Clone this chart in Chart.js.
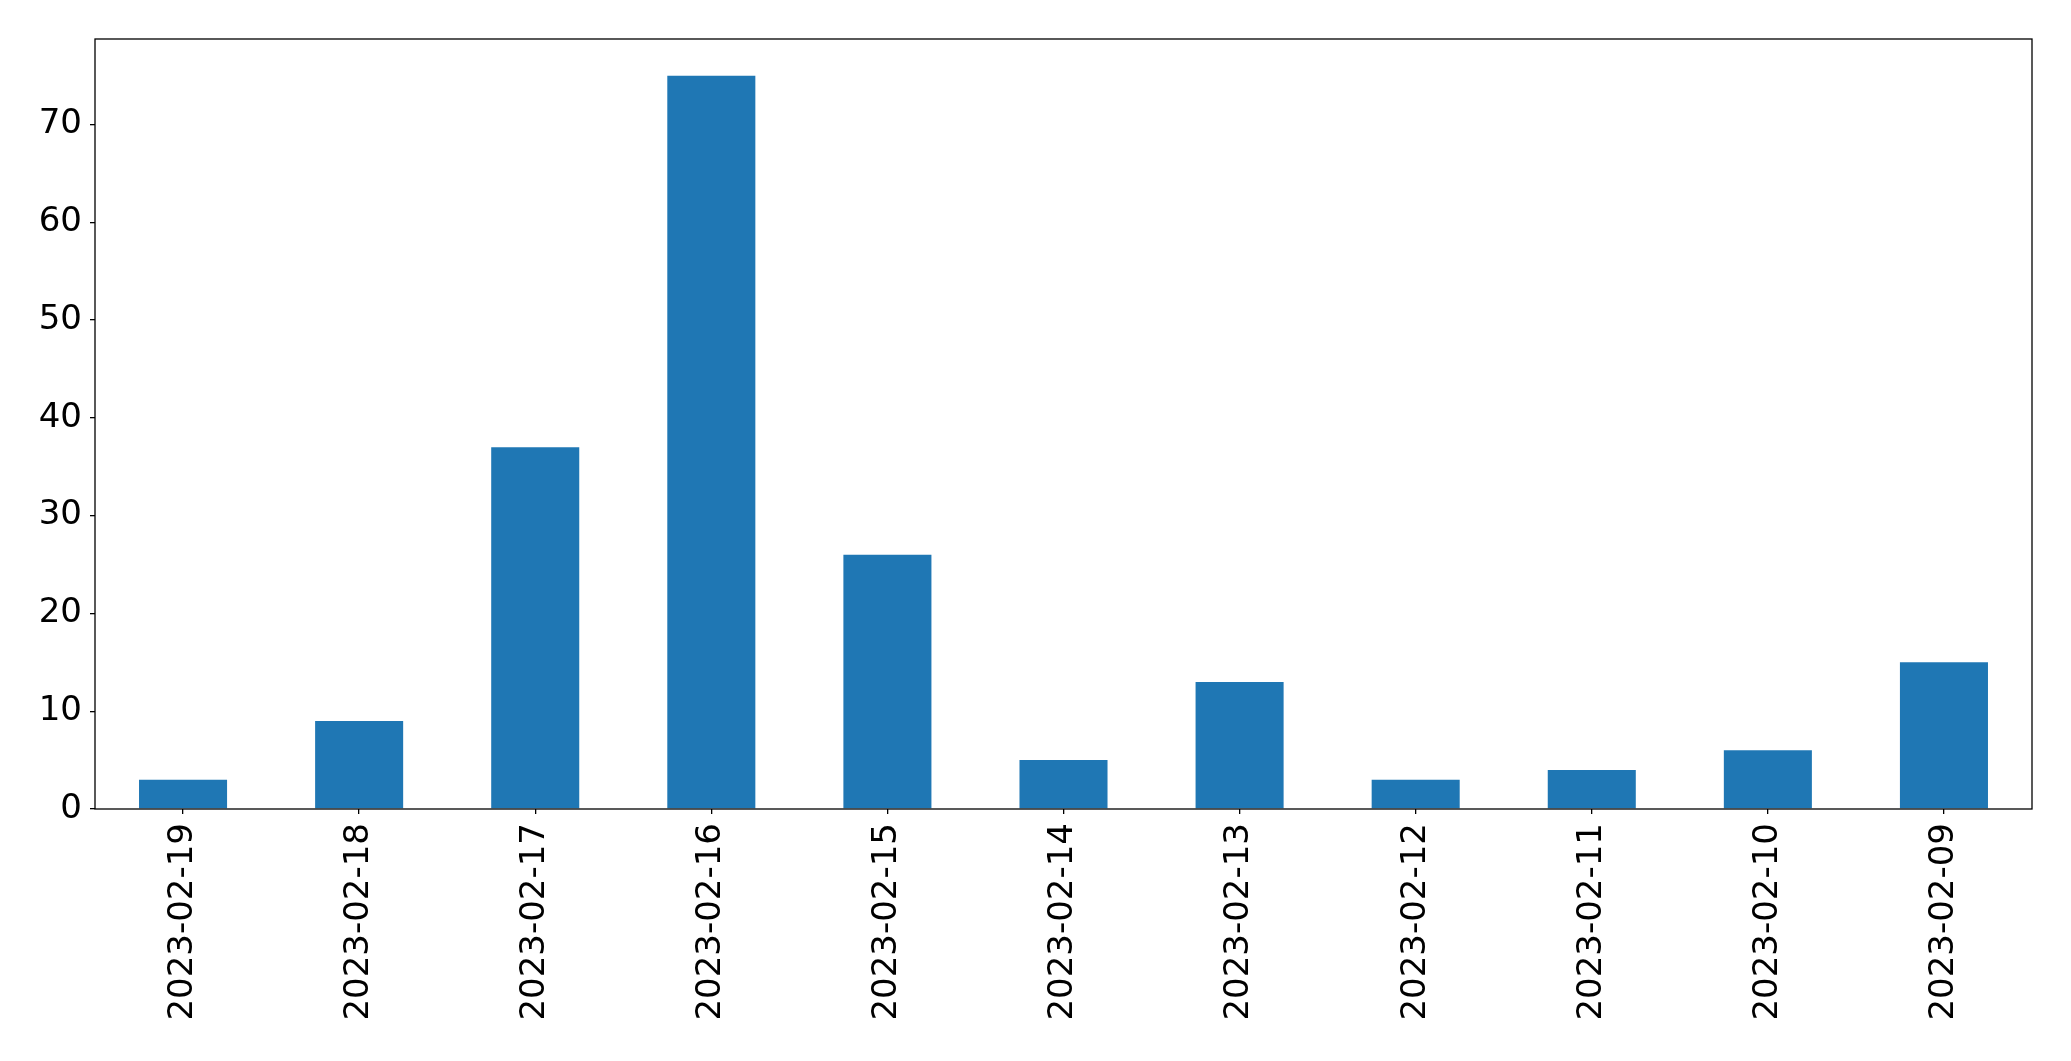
<!DOCTYPE html>
<html lang="en">
<head>
    <meta charset="UTF-8">
    <title>Daily counts</title>
    <script src="https://cdn.jsdelivr.net/npm/chart.js@4.4.0"></script>
    <style>
        html, body { margin: 0; padding: 0; background: #fff; }
        .chart-container { width: 2071px; height: 1061px; position: relative; }
    </style>
</head>
<body>
    <div class="chart-container">
        <canvas id="barChart"></canvas>
    </div>

    <script>
        // chart data
        const dates = ['2023-02-19', '2023-02-18', '2023-02-17', '2023-02-16', '2023-02-15', '2023-02-14',
                       '2023-02-13', '2023-02-12', '2023-02-11', '2023-02-10', '2023-02-09'];
        const counts = [3, 9, 37, 75, 26, 5, 13, 3, 4, 6, 15];
        const yTicks = [0, 10, 20, 30, 40, 50, 60, 70];

        const fontFamily = '"DejaVu Sans", sans-serif';

        // frame round the plot area, like matplotlib spines
        const framePlugin = {
            id: 'frame',
            afterDraw: (chart) => {
                const { left, right, top, bottom } = chart.chartArea;
                const ctx = chart.ctx;
                ctx.save();
                ctx.strokeStyle = '#000';
                ctx.lineWidth = 1.3;
                ctx.strokeRect(left, top, right - left, bottom - top);
                ctx.restore();
            }
        };

        new Chart(document.getElementById('barChart'), {
            type: 'bar',
            data: {
                labels: dates,
                datasets: [{
                    data: counts,
                    backgroundColor: '#1f77b4',
                    borderWidth: 0,
                    barPercentage: 0.5,
                    categoryPercentage: 1.0
                }]
            },
            options: {
                responsive: true,
                maintainAspectRatio: false,
                animation: false,
                layout: { padding: { top: 39, right: 39, left: 0, bottom: 0 } },
                plugins: {
                    legend: { display: false },
                    tooltip: { enabled: false }
                },
                scales: {
                    x: {
                        offset: true,
                        grid: {
                            display: true,
                            drawOnChartArea: false,
                            offset: false,
                            tickLength: 5,
                            color: '#000',
                            lineWidth: 1.3
                        },
                        border: { display: false },
                        ticks: {
                            color: '#000',
                            font: { family: fontFamily, size: 34 },
                            minRotation: 90,
                            maxRotation: 90,
                            autoSkip: false,
                            padding: 9
                        },
                        afterFit: (scale) => { scale.height = 252; }
                    },
                    y: {
                        min: 0,
                        max: 78.75,
                        grid: {
                            display: true,
                            drawOnChartArea: false,
                            tickLength: 5,
                            color: '#000',
                            lineWidth: 1.3
                        },
                        border: { display: false },
                        ticks: {
                            stepSize: 10,
                            color: '#000',
                            font: { family: fontFamily, size: 34 },
                            padding: 8
                        },
                        afterBuildTicks: (scale) => {
                            scale.ticks = yTicks.map(v => ({ value: v }));
                        },
                        afterFit: (scale) => { scale.width = 95; }
                    }
                }
            },
            plugins: [framePlugin]
        });
    </script>
</body>
</html>
